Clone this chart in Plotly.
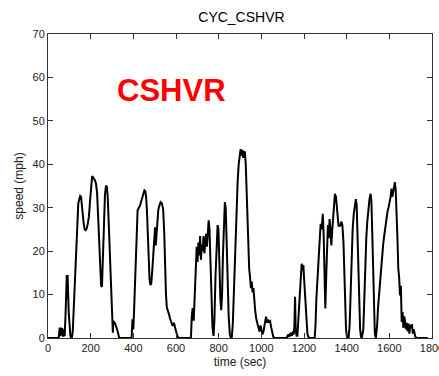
import plotly.graph_objects as go

# CSHVR drive cycle: time (s) and vehicle speed (mph)
time_s = [
    0, 50, 55, 57, 60, 63, 66, 70, 74, 78, 82, 86, 88, 90, 92, 94, 97, 101, 105, 109, 112,
    116, 120, 125, 131, 137, 142, 147, 151, 155, 159, 163, 167, 172, 177, 182, 187, 192,
    197, 202, 207, 211, 215, 220, 225, 230, 235, 240, 245, 249, 253, 257, 262, 267, 272,
    276, 280, 285, 290, 295, 300, 304, 306, 309, 314, 319, 325, 330, 334, 340,
    392, 396, 400, 404, 409, 414, 420, 426, 432, 437, 442, 447, 452, 456, 460, 464, 468,
    472, 476, 480, 484, 488, 493, 498, 502, 505, 508, 512, 517, 522, 528, 534, 540, 545,
    549, 553, 557, 562, 567, 572, 578, 584, 590, 596, 602, 607, 611, 640,
    670, 674, 678, 683, 688, 693, 697, 701, 705, 709, 713, 717, 721, 725, 729, 733, 737,
    741, 745, 749, 753, 757, 761, 766, 771, 776, 780, 785, 790, 795, 799, 803, 808, 812,
    816, 820, 825, 829, 833, 837, 842, 847, 852, 857, 861,
    866, 871, 877, 883, 889, 894, 899, 903, 907, 911, 915, 919, 923, 927, 931, 935, 939,
    943, 947, 951, 955, 959, 963, 967, 971, 976, 981, 986, 991, 996, 1001, 1005, 1010,
    1016, 1022, 1027, 1031, 1036, 1041, 1046, 1051, 1056, 1061,
    1119, 1125, 1131, 1137, 1143, 1148, 1152, 1155, 1158, 1161, 1165, 1169, 1174, 1180,
    1185, 1189, 1193, 1197, 1200, 1204, 1208, 1212, 1216, 1220, 1225, 1250, 1254, 1258,
    1263, 1268, 1273, 1278, 1283, 1288, 1292, 1296, 1300, 1304, 1308, 1312, 1316, 1320,
    1324, 1328, 1332, 1336, 1340, 1345, 1350, 1354, 1358, 1362, 1366, 1370, 1375, 1380,
    1385, 1389, 1393, 1397, 1401, 1405, 1409,
    1414, 1418, 1423, 1428, 1433, 1438, 1443, 1447, 1451, 1455, 1459, 1463, 1467, 1471,
    1478, 1482, 1487, 1492, 1497, 1502, 1507, 1512, 1516, 1520, 1524, 1528, 1532, 1537,
    1543, 1547, 1551, 1556, 1561, 1566, 1571, 1576, 1581, 1586, 1591, 1596, 1601, 1606,
    1610, 1614, 1618, 1622, 1626, 1630, 1634, 1638, 1642, 1646, 1650, 1654, 1658, 1662,
    1666, 1670, 1674, 1678, 1682, 1686, 1690, 1694, 1698, 1702, 1706, 1710, 1714, 1718,
    1722, 1728, 1780,
]

speed_mph = [
    0, 0, 2.4, 0.4, 2.4, 0.6, 2.3, 0.3, 2.0, 0.4, 5.0, 11.0, 14.5, 9.0, 14.5, 11.0, 6.0, 2.5, 0.5, 0, 0,
    1.5, 6.0, 13.0, 21.0, 28.0, 31.0, 32.0, 32.7, 32.5, 31.0, 28.5, 26.5, 25.0, 24.8, 25.3, 26.5, 28.0,
    31.5, 35.0, 37.3, 37.0, 36.7, 36.3, 35.5, 33.5, 28.0, 21.0, 15.0, 12.0, 11.8, 17.0, 27.0, 33.0, 35.1,
    34.8, 32.5, 26.0, 18.5, 11.5, 6.0, 1.2, 3.5, 3.7, 3.4, 2.8, 1.8, 0.8, 0, 0,
    0, 4.3, 2.0, 7.0, 15.0, 23.0, 29.4, 30.0, 30.6, 31.5, 32.5, 33.5, 34.0, 33.8, 32.5, 29.0, 23.0,
    17.0, 13.5, 12.2, 12.5, 15.0, 18.5, 22.0, 25.5, 21.3, 24.0, 27.0, 29.5, 30.5, 31.3, 31.0, 29.5, 24.0,
    16.0, 10.0, 7.0, 6.4, 5.5, 4.5, 3.5, 2.8, 3.5, 2.0, 1.2, 0.5, 0, 0,
    0, 5.0, 6.9, 4.0, 9.0, 15.0, 21.0, 17.5, 22.0, 19.0, 23.5, 18.0, 21.5, 20.0, 23.5, 19.5, 22.5,
    24.0, 21.0, 25.0, 27.1, 25.0, 18.0, 9.0, 2.5, 0.5, 4.0, 14.0, 22.0, 26.0, 25.0, 17.0, 9.0, 6.4,
    10.0, 19.0, 27.0, 31.3, 30.0, 22.0, 12.0, 5.0, 1.0, 0, 0,
    3.0, 10.0, 20.0, 29.0, 36.0, 40.1, 42.0, 43.5, 42.0, 43.3, 41.5, 43.0, 42.7, 40.0, 34.0, 27.0, 21.0,
    16.0, 14.0, 11.5, 13.0, 10.5, 11.5, 8.0, 6.4, 4.5, 3.4, 2.5, 1.5, 2.9, 1.5, 0.8, 1.5,
    3.0, 4.9, 3.5, 4.2, 3.7, 3.9, 2.5, 1.0, 0.3, 0,
    0, 0.8, 0.3, 1.2, 0.5, 1.5, 0.8, 3.0, 9.5, 2.0, 0.5, 0.5, 5.0, 11.0,
    15.0, 17.1, 15.5, 16.8, 14.0, 11.0, 6.0, 2.5, 1.0, 0.3, 0, 0, 3.0, 9.0,
    14.0, 17.0, 22.0, 26.3, 25.0, 28.6, 24.0, 12.0, 6.8, 14.0, 22.0, 26.0, 23.0, 27.4,
    25.0, 21.3, 24.5, 28.0, 31.5, 33.2, 32.5, 30.0, 27.0, 25.7, 26.0, 25.7, 26.8, 26.0,
    22.0, 14.0, 7.0, 2.0, 0.3, 0, 0,
    3.0, 10.0, 19.0, 25.0, 28.5, 31.0, 32.0, 30.5, 24.0, 15.0, 7.0, 2.0, 0.3, 0,
    2.0, 9.0, 17.0, 23.0, 27.0, 30.0, 32.0, 33.2, 31.5, 24.0, 14.0, 6.0, 1.0, 0,
    3.0, 7.0, 9.5, 14.0, 17.0, 19.5, 21.5, 23.5, 25.7, 27.5, 29.0, 30.0, 31.0, 32.5,
    34.4, 32.5, 33.5, 34.8, 35.9, 34.0, 30.0, 23.0, 16.0, 14.0, 9.8, 12.0, 3.7, 6.0,
    2.3, 5.0, 3.7, 2.0, 3.5, 1.5, 3.3, 1.0, 3.0, 2.3, 3.2, 1.0, 2.0, 0.5,
    0.3, 0, 0,
]

x_ticks = [0, 200, 400, 600, 800, 1000, 1200, 1400, 1600, 1800]
y_ticks = [0, 10, 20, 30, 40, 50, 60, 70]

FONT = "Liberation Sans, Arial, sans-serif"
AXIS_COLOR = "#333333"

fig = go.Figure()
fig.add_trace(go.Scatter(
    x=time_s, y=speed_mph, mode="lines",
    line=dict(color="black", width=2),
    showlegend=False, hoverinfo="x+y",
))

fig.add_annotation(
    x=580, y=57, xref="x", yref="y",
    text="<b>CSHVR</b>", showarrow=False,
    font=dict(family=FONT, size=31, color="#ff0000"),
)

axis_common = dict(
    showgrid=False, zeroline=False,
    showline=True, linecolor=AXIS_COLOR, linewidth=1, mirror="ticks",
    ticks="inside", ticklen=5, tickwidth=1, tickcolor=AXIS_COLOR,
    tickfont=dict(family=FONT, size=11, color="#222222"),
    ticklabeloverflow="allow",
    automargin=False,
)

fig.update_layout(
    width=439, height=376,
    margin=dict(l=48, r=7, t=34, b=38),
    paper_bgcolor="white", plot_bgcolor="white",
    title=dict(text="CYC_CSHVR", x=0.55, xanchor="center", y=0.955, yanchor="middle",
               font=dict(family=FONT, size=14, color="black")),
    xaxis=dict(range=[0, 1800], tickvals=x_ticks, ticktext=[str(v) for v in x_ticks],
               title=dict(text="time (sec)", font=dict(family=FONT, size=12, color="#222222"), standoff=4),
               **axis_common),
    yaxis=dict(range=[0, 70], tickvals=y_ticks, ticktext=[str(v) for v in y_ticks],
               title=dict(text="speed (mph)", font=dict(family=FONT, size=12, color="#222222"), standoff=6),
               **axis_common),
)

fig.write_html("out.html")
